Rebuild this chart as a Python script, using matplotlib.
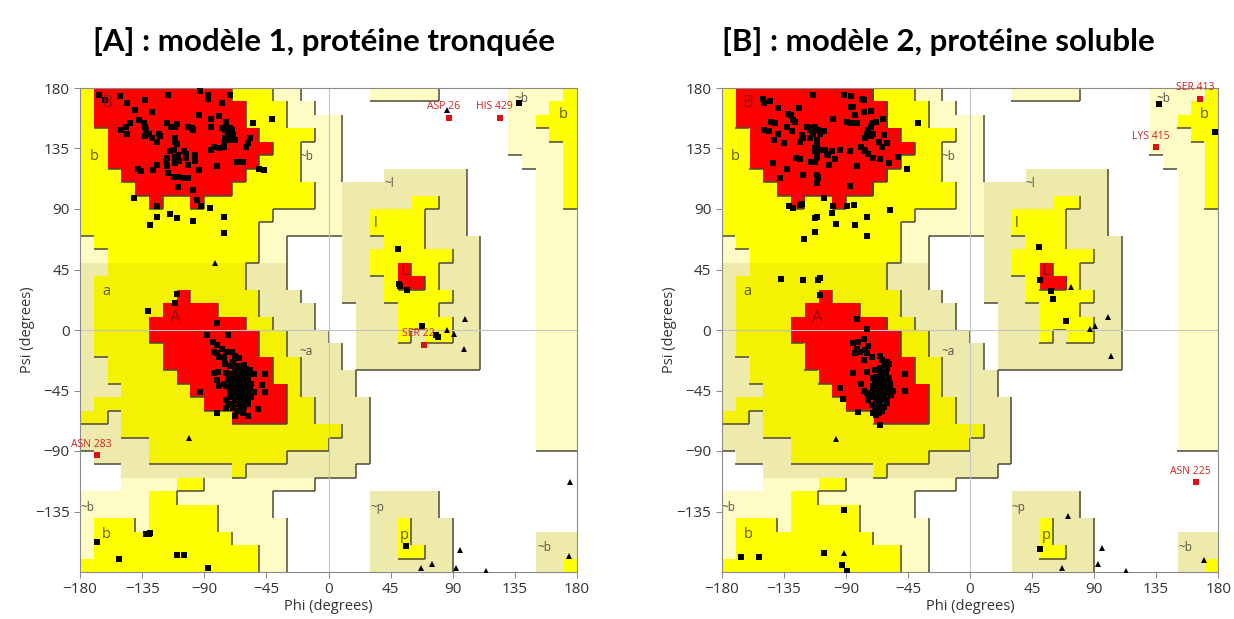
import matplotlib
matplotlib.use("Agg")
import matplotlib.pyplot as plt
import numpy as np
from matplotlib.colors import ListedColormap
from matplotlib.collections import LineCollection

# Ramachandran region map, 10 degree cells, run-length per row
# rows go from psi 180 down to -180, columns from phi -180 to 180
# R core, Y/y allowed, G/g generously allowed, W disallowed
REGION_ROWS = [
    "Y1 R10 Y3 G2 W5 G5 W5 G4 Y1",
    "Y1 R11 Y3 G2 W14 G3 Y2",
    "Y1 R11 Y3 G4 W12 G2 Y3",
    "Y2 R11 Y4 G2 W12 G3 Y2",
    "Y2 R12 Y2 G3 W12 G4 Y1",
    "Y2 R11 Y3 G3 W13 G3 Y1",
    "Y3 R9 Y4 G3 W3 g6 W5 G2 Y1",
    "Y4 R7 Y6 G2 g9 W5 G2 Y1",
    "Y5 R1 Y2 R1 Y8 G2 g5 Y2 g2 W5 G2 Y1",
    "Y14 G5 g2 Y4 g3 W5 G3",
    "Y13 G6 g2 Y4 g3 W5 G3",
    "G1 Y12 G2 W4 g3 Y3 g4 W4 G3",
    "G2 Y11 G2 W4 g2 Y6 g2 W4 G3",
    "g2 y10 g3 W4 g2 Y2 R1 Y2 g3 W4 G3",
    "g1 y11 g3 W4 g3 Y1 R2 Y1 g3 W4 G3",
    "g1 y6 R1 y5 g3 W3 g3 Y5 g2 W4 G3",
    "g1 y5 R4 y3 g4 W3 g3 Y3 g3 W4 G3",
    "g1 y4 R7 y2 g3 W3 g3 Y4 g2 W4 G3",
    "g1 y4 R8 y2 g3 W2 g3 Y1 g1 Y2 g2 W4 G3",
    "g1 y5 R7 y2 g4 W1 g9 W4 G3",
    "g2 y4 R8 y2 g3 W1 g9 W4 G3",
    "g2 y5 R7 y2 g4 W13 G3",
    "g3 y5 R7 y1 g4 W13 G3",
    "g1 y8 R6 y2 g4 W12 G3",
    "y2 g1 y8 R4 y2 g4 W12 G3",
    "g3 y16 g2 W12 G3",
    "g5 y13 g3 W12 G3",
    "W1 g4 y10 g6 W15",
    "W3 g8 y1 g8 W16",
    "W3 G4 Y2 G8 W19",
    "G5 Y2 G7 W7 g5 W10",
    "G5 Y5 G4 W7 g5 W10",
    "G1 Y3 G1 Y5 G5 W6 g2 Y1 g3 W9",
    "G1 Y10 G4 W6 g2 Y1 g3 W6 g3",
    "G1 Y12 G2 W6 g2 Y2 g2 W6 g3",
    "Y13 G2 W6 g6 W6 g2 Y1",
]
CODES = "WGgYyR"
CODE_COLORS = ["#ffffff", "#fffbc4", "#eeeaac", "#ffff00", "#f4f200", "#ff0000"]
CODE_LEVEL = {"W": 0, "G": 1, "g": 1, "Y": 2, "y": 2, "R": 3}

REGION_LABELS = [
    ("B", -161, 169, "core"), ("b", -170, 129, "allowed"), ("~b", -16, 129, "gen"),
    ("a", -161, 29, "allowed"), ("A", -111, 9, "core"), ("~a", -16, -16, "gen"),
    ("~l", 44, 109, "gen"), ("l", 34, 79, "allowed"), ("L", 55, 44, "core"),
    ("~b", 140, 172, "gen"), ("b", 170, 160, "allowed"), ("~p", 35, -132, "gen"),
    ("p", 55, -153, "allowed"), ("~b", 156, -162, "gen"), ("~b", -175, -132, "gen"),
    ("b", -161, -152, "allowed"),
]

# ---- panel A : model 1 ----
a_squares = [
    (-166,175),(-162,171),(-151,174),(-146,169),(-140,164),(-133,171),(-128,162),(-116,175),
    (-93,178),(-87,175),(-87,172),(-71,175),(-77,169),(-94,160),(-85,157),(-79,159),(-74,155),
    (-55,154),(-41,157),(-147,151),(-144,154),(-150,149),(-146,146),(-137,156),(-134,154),
    (-133,151),(-132,149),(-130,146),(-133,144),(-128,143),(-124,140),(-122,144),(-123,146),
    (-117,154),(-114,151),(-111,151),(-110,153),(-102,151),(-98,149),(-99,150),(-85,151),
    (-77,150),(-75,149),(-74,151),(-71,150),(-70,149),(-73,146),(-75,143),(-76,139),(-71,141),
    (-68,141),(-69,145),(-57,143),(-58,139),(-60,136),(-83,136),(-85,134),(-76,136),(-79,135),
    (-111,143),(-111,140),(-110,138),(-112,134),(-115,133),(-117,128),(-118,126),(-111,129),
    (-109,130),(-105,133),(-103,131),(-97,130),(-103,128),(-108,126),(-111,124),(-102,123),
    (-97,126),(-66,125),(-62,125),(-50,120),(-47,119),(-81,122),(-94,119),(-117,122),(-124,123),
    (-127,119),(-138,120),(-136,118),(-116,117),(-112,114),(-109,114),(-105,113),(-102,113),
    (-109,106),(-98,104),(-141,98),(-95,97),(-92,92),(-124,92),(-124,84),(-129,78),(-115,86),
    (-110,83),(-98,81),(-86,91),(-76,84),(-76,72),(-110,27),(-111,20),(-131,14),
    (-81,5),(-88,-4),(-73,-4),(-84,-9),(-81,-11),(-77,-14),(-83,-16),(-81,-17),(-79,-20),
    (-76,-21),(-74,-16),(-70,-16),(-68,-19),(-75,-25),(-71,-27),(-69,-24),(-65,-21),(-83,-32),
    (-80,-31),(-74,-32),(-67,-27),(-63,-30),(-61,-26),(-57,-30),(-54,-33),(-46,-33),(-48,-41),
    (-46,-46),(-93,-46),(-81,-37),(-76,-40),(-79,-42),(-73,-36),(-69,-36),(-67,-35),(-64,-36),
    (-62,-37),(-59,-38),(-56,-40),(-71,-45),(-69,-42),(-67,-43),(-64,-42),(-62,-41),(-59,-42),
    (-57,-45),(-54,-46),(-69,-47),(-67,-48),(-64,-46),(-62,-47),(-59,-48),(-63,-51),(-65,-52),
    (-68,-53),(-70,-55),(-73,-56),(-63,-55),(-61,-53),(-58,-52),(-74,-58),(-69,-58),(-64,-58),
    (-61,-57),(-81,-62),(-68,-64),(-58,-64),(-51,-59),(-65,-38),(-63,-40),(-68,-40),(-70,-40),
    (-74,-42),(-71,-50),(-74,-52),
    (-66,-36),(-64,-38),(-62,-40),(-60,-42),(-65,-42),(-63,-44),(-61,-46),(-67,-45),(-69,-40),
    (-58,-36),(-60,-33),(-62,-35),(-64,-31),(-66,-33),(-68,-30),(-70,-33),(-63,-48),(-65,-50),
    (-61,-51),(-59,-45),(-57,-41),(-67,-55),(-63,-56),(-58,-55),(-69,-47),(-71,-43),(-72,-38),
    (-66,-60),(-62,-62),(-56,-50),(-64,-27),(-60,-29),(-58,-31),(-65,-46),(-61,-38),(-67,-38),
    (-63,-34),(-59,-48),
    (-168,-158),(-152,-170),(-132,-152),(-130,-152),(-129,-151),(-110,-167),(-105,-167),(-87,-177),
    (50,60),(51,34),(52,33),(57,30),(68,3),(78,-4),(79,-5),(56,-161),(138,169),
]
a_triangles = [(-82,50),(-101,-80),(86,164),(86,0),(91,-3),(99,8),(98,-14),(175,-113),
               (95,-164),(75,-174),(67,-177),(92,-177),(114,-179),(174,-168)]
a_outliers = [("ASP 26", 87, 158), ("HIS 429", 124, 158), ("ASN 283", -168, -93), ("SER 22", 69, -11)]

# ---- panel B : model 2 ----
b_squares = [
    (-150,172),(-149,169),(-145,170),(-139,165),(-132,161),(-130,160),(-124,165),(-114,175),
    (-91,175),(-86,174),(-78,172),(-77,171),(-86,166),(-85,166),(-83,160),(-77,162),(-72,163),
    (-99,157),(-89,155),(-86,154),(-82,154),(-68,155),(-63,157),(-74,149),(-72,151),(-71,154),
    (-75,146),(-76,143),(-72,144),(-70,146),(-66,140),(-62,145),(-60,139),(-64,136),(-52,129),
    (-46,120),(-38,154),(-144,155),(-141,154),(-149,149),(-146,148),(-139,146),(-142,141),
    (-135,139),(-133,151),(-128,156),(-127,155),(-129,148),(-122,145),(-121,143),(-123,140),
    (-118,151),(-116,149),(-114,150),(-112,151),(-110,149),(-109,146),(-106,148),(-114,146),
    (-116,143),(-111,141),(-111,138),(-112,135),(-112,133),(-111,131),(-111,128),(-112,125),
    (-109,134),(-105,134),(-104,131),(-103,130),(-100,133),(-94,134),(-87,133),(-79,136),
    (-77,134),(-76,133),(-74,131),(-70,128),(-65,127),(-59,124),(-102,123),(-98,127),(-82,122),
    (-126,128),(-123,127),(-115,125),(-143,124),(-133,120),(-138,113),(-121,115),(-111,115),
    (-110,113),(-111,109),(-87,107),(-106,98),(-131,92),(-128,91),(-123,93),(-122,94),(-99,92),
    (-89,92),(-84,93),(-100,87),(-112,83),(-111,84),(-97,79),(-83,78),(-75,84),(-58,89),
    (-112,73),(-120,68),(-75,70),(-137,38),(-121,37),(-110,37),(-109,39),(-109,26),(-82,8),(-75,1),
    (-85,-10),(-81,-9),(-77,-7),(-82,-14),(-83,-17),(-80,-16),(-76,-15),(-74,-12),(-77,-22),
    (-75,-17),(-71,-20),(-65,-19),(-64,-22),(-60,-24),(-85,-32),(-75,-31),(-69,-30),(-65,-28),
    (-62,-26),(-59,-25),(-47,-33),(-47,-45),(-94,-43),(-92,-51),(-79,-40),(-77,-45),(-75,-47),
    (-74,-52),(-73,-50),(-70,-36),(-68,-35),(-65,-37),(-63,-38),(-60,-40),(-58,-42),(-56,-45),
    (-70,-42),(-68,-43),(-65,-45),(-63,-46),(-60,-47),(-57,-48),(-70,-50),(-68,-52),(-65,-53),
    (-63,-51),(-60,-52),(-71,-56),(-69,-57),(-66,-56),(-64,-57),(-70,-62),(-81,-61),(-65,-71),
    (-68,-63),
    (-64,-36),(-62,-38),(-60,-41),(-66,-40),(-63,-43),(-61,-45),(-65,-47),(-67,-44),(-59,-36),
    (-61,-33),(-63,-31),(-65,-33),(-67,-30),(-69,-38),(-62,-49),(-64,-51),(-60,-54),(-66,-54),
    (-58,-46),(-62,-57),(-64,-60),(-68,-58),(-66,-62),(-60,-28),(-58,-40),(-64,-42),(-62,-44),
    (-66,-48),(-68,-50),(-70,-46),
    (-166,-169),(-153,-169),(-106,-166),(-93,-175),(-89,-179),(-91,-134),
    (50,62),(51,37),(59,29),(60,23),(70,7),(51,-163),(137,168),(178,147),
]
b_triangles = [(-97,-81),(-91,-166),(73,32),(100,10),(87,1),(91,3),(102,-19),(71,-138),
               (96,-162),(67,-177),(93,-174),(113,-179),(170,-171)]
b_outliers = [("SER 413", 167, 172), ("LYS 415", 135, 136), ("ASN 225", 164, -113)]

TITLES = ["[A] : modèle 1, protéine tronquée", "[B] : modèle 2, protéine soluble"]


def expand(row):
    s = "".join(tok[0] * int(tok[1:]) for tok in row.split())
    assert len(s) == 36, row
    return s


grid = [expand(r) for r in REGION_ROWS]
img = np.array([[CODES.index(ch) for ch in row] for row in grid])
lev = np.array([[CODE_LEVEL[ch] for ch in row] for row in grid])

# shadow lines: right / bottom edge of a higher region
segs = []
for r in range(36):
    for c in range(36):
        if c < 35 and lev[r, c] > lev[r, c + 1]:
            x = -180 + 10 * (c + 1)
            segs.append([(x, 180 - 10 * r), (x, 180 - 10 * (r + 1))])
        if r < 35 and lev[r, c] > lev[r + 1, c]:
            y = 180 - 10 * (r + 1)
            segs.append([(-180 + 10 * c, y), (-170 + 10 * c, y)])

plt.rcParams['font.family'] = ['Open Sans', 'DejaVu Sans']
fig = plt.figure(figsize=(12.34, 6.19), dpi=100)

boxes = [[80 / 1234, 1 - 572 / 619, 497 / 1234, 484 / 619],
         [721.7 / 1234, 1 - 572 / 619, 496.5 / 1234, 484 / 619]]
panels = [(a_squares, a_triangles, a_outliers), (b_squares, b_triangles, b_outliers)]
title_x = [324 / 1234, 938 / 1234]

for k in range(2):
    ax = fig.add_axes(boxes[k])
    ax.imshow(img, cmap=ListedColormap(CODE_COLORS), vmin=-0.5, vmax=5.5,
              extent=(-180, 180, -180, 180), origin='upper', interpolation='nearest',
              aspect='auto', zorder=0)
    ax.add_collection(LineCollection(segs, colors='#4a4a3c', linewidths=1.1, zorder=1))
    ax.axhline(0, color='#c4c4c4', lw=0.8, zorder=1.5)
    ax.axvline(0, color='#c4c4c4', lw=0.8, zorder=1.5)

    for txt, x, y, kind in REGION_LABELS:
        if kind == "core":
            ax.text(x, y, txt, fontsize=12, color='#8a1010', ha='center', va='center', zorder=3.5)
        elif kind == "allowed":
            ax.text(x, y, txt, fontsize=10.5, color='#5c5a1c', ha='center', va='center', zorder=2)
        else:
            ax.text(x, y, txt, fontsize=8.5, color='#55554a', ha='center', va='center', zorder=2)

    sq, tri, out = panels[k]
    sq = np.array(sq)
    tri = np.array(tri)
    ax.plot(sq[:, 0], sq[:, 1], 's', color='black', ms=4.2, mew=0, zorder=3)
    ax.plot(tri[:, 0], tri[:, 1], '^', color='black', ms=4.2, mew=0, zorder=3)
    for name, x, y in out:
        ax.plot(x, y, 's', color='#e01010', ms=4.0, mew=0, zorder=4)
        ax.text(x - 4, y + 4, name, fontsize=7.5, color='#d42020', ha='center', va='bottom',
                zorder=4, clip_on=False)

    ax.set_xlim(-180, 180)
    ax.set_ylim(-180, 180)
    ax.set_xticks(range(-180, 181, 45))
    ax.set_yticks(range(-135, 181, 45))
    ax.tick_params(labelsize=11, colors='#333333', length=4, width=0.7, color='#888888')
    for s in ax.spines.values():
        s.set_color('#8a8a8a')
        s.set_linewidth(0.8)
    ax.set_xlabel("Phi (degrees)", fontsize=10.5, color='#333333', labelpad=1)
    ax.set_ylabel("Psi (degrees)", fontsize=10.5, color='#333333', labelpad=0)

    fig.text(title_x[k], 1 - 42 / 619, TITLES[k], fontsize=22.5, fontweight='bold',
             family=['Lato', 'DejaVu Sans'], ha='center', va='center', color='#000000')

fig.savefig("out.png", dpi=100)
